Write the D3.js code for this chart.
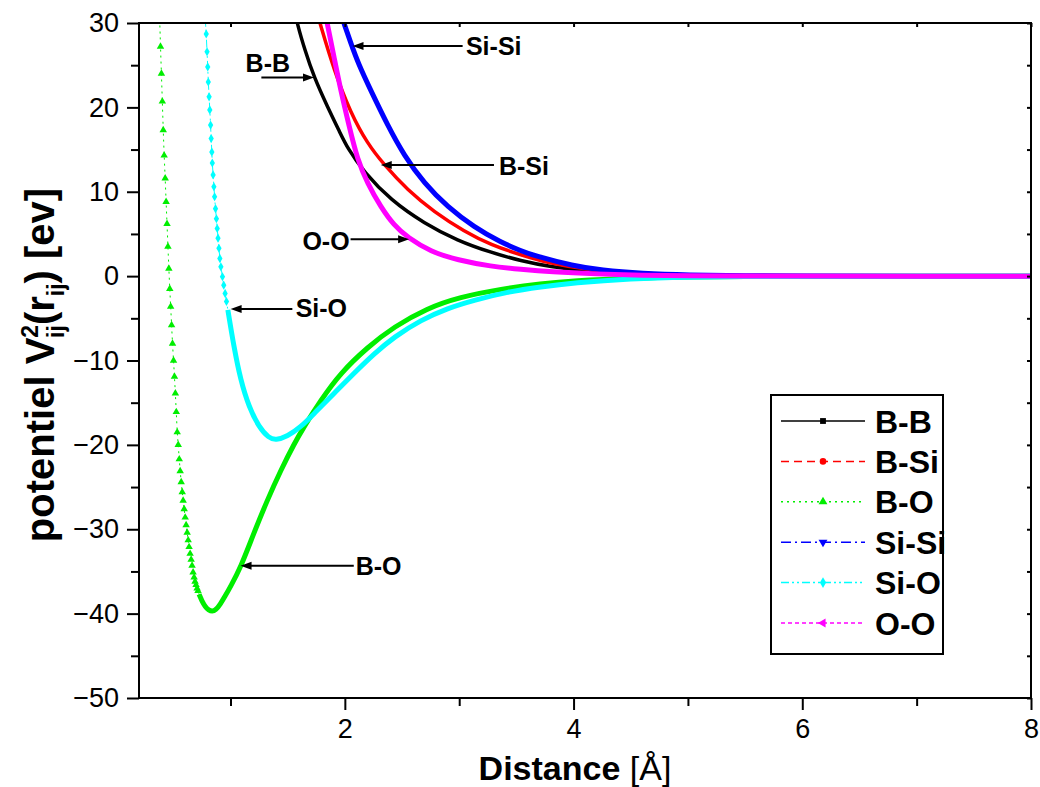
<!DOCTYPE html>
<html>
<head>
<meta charset="utf-8">
<script src="https://cdn.jsdelivr.net/npm/d3@7"></script>
<style>
  body { margin: 0; background: #fff; }
  text { font-family: "Liberation Sans", Arial, sans-serif; }
</style>
</head>
<body>
<svg id="chart" width="1040" height="787"></svg>
<script>
// values (distance in Å, potential in eV)
const bbX = [1.57, 1.583, 1.65, 1.73, 1.847, 1.958, 2.022, 2.168, 2.402, 2.694, 2.986, 3.278, 3.54, 3.8, 4.1, 4.5, 5.0, 5.5, 6.0, 7.0, 8.0];
const bbY = [31, 29.95, 26.8, 23.6, 20.1, 17.0, 15.2, 12.3, 9.0, 6.25, 4.2, 2.8, 1.8, 1.1, 0.6, 0.25, 0.08, 0.02, 0, 0, 0];

const bsX = [1.775, 1.783, 1.905, 2.052, 2.198, 2.343, 2.548, 2.781, 3.044, 3.278, 3.54, 3.8, 4.1, 4.5, 5.0, 5.5, 6.0, 7.0, 8.0];
const bsY = [30.4, 29.95, 24.4, 19.3, 15.7, 13.2, 10.2, 7.6, 5.3, 3.7, 2.5, 1.5, 0.8, 0.35, 0.12, 0.04, 0, 0, 0];

const boX = [0.381, 0.388, 0.396, 0.404, 0.412, 0.420, 0.429, 0.437, 0.445, 0.453, 0.461, 0.469, 0.477, 0.485, 0.493,
             0.502, 0.510, 0.518, 0.526, 0.534, 0.543, 0.552, 0.560, 0.569, 0.578, 0.586, 0.595, 0.604, 0.612, 0.621,
             0.630, 0.638, 0.647, 0.656, 0.664, 0.673, 0.682, 0.690, 0.699, 0.708, 0.716, 0.725, 0.75, 0.78, 0.81,
             0.84, 0.87, 0.91, 0.95, 1.00, 1.09, 1.20, 1.32, 1.44, 1.56, 1.64, 1.79, 1.96, 2.20, 2.43, 2.72, 3.00,
             3.37, 3.72, 4.00, 4.50, 5.00, 5.50, 6.00, 7.00, 8.00];
const boY = [30.4, 27.2, 24.0, 20.7, 17.3, 14.3, 11.6, 8.8, 6.2, 3.5, 0.9, -1.5, -3.6, -5.8, -8.0,
             -10.0, -11.9, -13.9, -16.1, -18.5, -20.0, -21.7, -23.1, -24.4, -25.6, -26.6, -27.6, -28.6, -29.5, -30.4,
             -31.3, -32.1, -32.9, -33.6, -34.3, -35.1, -35.7, -36.2, -36.6, -37.0, -37.3, -37.7, -38.5, -39.2, -39.6,
             -39.75, -39.6, -38.9, -38.0, -36.8, -34.5, -30.6, -26.6, -23.0, -19.8, -17.9, -14.7, -11.5, -8.4, -6.0, -3.8, -2.5,
             -1.5, -0.9, -0.55, -0.22, -0.08, -0.03, 0, 0, 0];

const ssX = [1.985, 1.993, 2.05, 2.12, 2.227, 2.373, 2.518, 2.694, 2.898, 3.131, 3.365, 3.54, 3.66, 4.0, 4.24, 4.6, 5.0, 5.5, 6.0, 7.0, 8.0];
const ssY = [30.3, 29.95, 27.7, 25.1, 22.0, 17.9, 14.3, 11.0, 8.2, 5.8, 4.0, 3.0, 2.4, 1.2, 0.7, 0.3, 0.12, 0.04, 0, 0, 0];

const soX = [0.779, 0.788, 0.795, 0.801, 0.806, 0.813, 0.819, 0.826, 0.831, 0.837, 0.841, 0.848, 0.855, 0.861, 0.869,
             0.877, 0.884, 0.891, 0.899, 0.907, 0.916, 0.930, 0.941, 0.953, 0.965, 0.977, 1.03, 1.088, 1.161, 1.249,
             1.336, 1.395, 1.497, 1.614, 1.73, 1.905, 2.081, 2.256, 2.431, 2.665, 2.898, 3.131, 3.424, 3.715, 4.0,
             4.5, 5.0, 5.5, 6.0, 7.0, 8.0];
const soY = [30.5, 28.7, 26.6, 24.8, 23.0, 21.25, 19.7, 17.9, 16.3, 14.7, 13.4, 12.0, 10.6, 9.4, 8.0,
             6.8, 5.65, 4.5, 3.3, 2.1, 1.1, -0.08, -1.07, -2.05, -3.0, -4.0, -8.4, -12.3, -15.5, -17.9,
             -19.2, -19.45, -19.0, -17.9, -16.3, -13.9, -11.5, -9.2, -7.2, -5.2, -3.8, -2.84, -1.86, -1.27, -0.8,
             -0.3, -0.1, -0.04, 0, 0, 0];

const ooX = [1.84, 1.845, 1.905, 1.964, 2.037, 2.11, 2.198, 2.314, 2.431, 2.548, 2.75, 2.986, 3.278, 3.54, 3.8, 4.2, 4.6, 5.0, 5.5, 6.0, 7.0, 8.0];
const ooY = [30.4, 30.0, 26.0, 22.0, 17.8, 13.8, 11.0, 8.2, 6.0, 4.6, 2.9, 1.9, 1.15, 0.8, 0.5, 0.25, 0.1, 0.05, 0.02, 0, 0, 0];

const xTicks = [2, 4, 6, 8];
const xMinor = [1, 3, 5, 7];
const yTicks = [-50, -40, -30, -20, -10, 0, 10, 20, 30];
const yMinor = [-45, -35, -25, -15, -5, 5, 15, 25];

const series = [
  {name: 'B-B',   xs: bbX, ys: bbY, color: '#000000', dash: null,            sym: d3.symbolSquare,   rot: 0,   band: 3.5, from: 0},
  {name: 'B-Si',  xs: bsX, ys: bsY, color: '#ff0000', dash: '8,5',           sym: d3.symbolCircle,   rot: 0,   band: 3.5, from: 0},
  {name: 'B-O',   xs: boX, ys: boY, color: '#00ee00', dash: '2,4',           sym: d3.symbolTriangle, rot: 0,   band: 5,   from: 0.72},
  {name: 'Si-Si', xs: ssX, ys: ssY, color: '#0000ff', dash: '10,4,2,4',      sym: d3.symbolTriangle, rot: 180, band: 5,   from: 0},
  {name: 'Si-O',  xs: soX, ys: soY, color: '#00ffff', dash: '8,3,2,3,2,3',   sym: d3.symbolDiamond,  rot: 0,   band: 5,   from: 0.975},
  {name: 'O-O',   xs: ooX, ys: ooY, color: '#ff00ff', dash: '4,3',           sym: d3.symbolTriangle, rot: -90, band: 5,   from: 0}
];

const notes = [
  {label: 'B-B',   tipX: 1.730, tipY: 23.55,  tailX: 1.27,  textX: 1.132, textY: 24.2},
  {label: 'Si-Si', tipX: 2.067, tipY: 27.26,  tailX: 3.03,  textX: 3.059, textY: 26.19},
  {label: 'B-Si',  tipX: 2.314, tipY: 13.16,  tailX: 3.304, textX: 3.347, textY: 11.97},
  {label: 'O-O',   tipX: 2.562, tipY: 4.385,  tailX: 2.05,  textX: 1.629, textY: 3.08},
  {label: 'Si-O',  tipX: 1.001, tipY: -3.91,  tailX: 1.541, textX: 1.57,  textY: -4.82},
  {label: 'B-O',   tipX: 1.088, tipY: -34.33, tailX: 2.078, textX: 2.095, textY: -35.44}
];

const margin = {top: 23, right: 9, bottom: 89, left: 139};
const width = 1040 - margin.left - margin.right;
const height = 787 - margin.top - margin.bottom;

const svg = d3.select('#chart');
const g = svg.append('g').attr('transform', `translate(${margin.left},${margin.top})`);

const x = d3.scaleLinear().domain([0.2, 8]).range([0, width]);
const y = d3.scaleLinear().domain([-50, 30]).range([height, 0]);

svg.append('defs').append('clipPath').attr('id', 'plot')
  .append('rect').attr('width', width).attr('height', height);

// curves (B-spline through the read points smooths reading noise)
const line = d3.line().x(d => x(d[0])).y(d => y(d[1])).curve(d3.curveBasis);
const curves = g.append('g').attr('clip-path', 'url(#plot)');

series.forEach(s => {
  const pts = s.xs.map((v, i) => [v, s.ys[i]]);
  curves.append('path').datum(pts)
    .attr('d', line).attr('fill', 'none')
    .attr('stroke', s.color).attr('stroke-width', 1)
    .attr('stroke-dasharray', s.dash);
  const dense = pts.filter(p => p[0] >= s.from);
  curves.append('path').datum(dense)
    .attr('d', line).attr('fill', 'none')
    .attr('stroke', s.color).attr('stroke-width', s.band)
    .attr('stroke-linejoin', 'round');
  curves.selectAll(null).data(pts.filter(p => p[0] < s.from)).enter()
    .append('path')
    .attr('d', d3.symbol().type(s.sym).size(24))
    .attr('transform', p => `translate(${x(p[0])},${y(p[1])}) rotate(${s.rot})`)
    .attr('fill', s.color);
});

// axes
function styleAxis(sel, labels) {
  sel.select('.domain').remove();
  sel.selectAll('line').attr('stroke', '#000').attr('stroke-width', 2);
  sel.selectAll('text').style('font-size', '27px').attr('fill', '#000');
  if (!labels) sel.selectAll('text').remove();
}

g.append('g').attr('transform', `translate(0,${height})`)
  .call(d3.axisBottom(x).tickValues(xTicks).tickSize(12).tickPadding(9).tickFormat(d3.format('d')))
  .call(s => styleAxis(s, true));
g.append('g').attr('transform', `translate(0,${height})`)
  .call(d3.axisBottom(x).tickValues(xMinor).tickSize(8))
  .call(s => styleAxis(s, false));
g.append('g')
  .call(d3.axisLeft(y).tickValues(yTicks).tickSize(12).tickPadding(8).tickFormat(d3.format('d')))
  .call(s => styleAxis(s, true));
g.append('g')
  .call(d3.axisLeft(y).tickValues(yMinor).tickSize(8))
  .call(s => styleAxis(s, false));
g.append('g')
  .call(d3.axisTop(x).tickValues(xTicks.concat(xMinor)).tickSize(-4))
  .call(s => styleAxis(s, false));
g.append('g').attr('transform', `translate(${width},0)`)
  .call(d3.axisRight(y).tickValues(yTicks.concat(yMinor)).tickSize(-4))
  .call(s => styleAxis(s, false));

g.append('rect').attr('width', width).attr('height', height)
  .attr('fill', 'none').attr('stroke', '#000').attr('stroke-width', 2);

// annotations
const ann = g.append('g');
notes.forEach(n => {
  const tx = x(n.tipX), ty = y(n.tipY), sx = x(n.tailX);
  const dir = tx > sx ? 1 : -1;
  ann.append('line').attr('x1', sx).attr('y1', ty).attr('x2', tx - dir * 8).attr('y2', ty)
    .attr('stroke', '#000').attr('stroke-width', 2);
  ann.append('path')
    .attr('d', `M${tx},${ty} L${tx - dir * 11},${ty - 4} L${tx - dir * 11},${ty + 4} Z`)
    .attr('fill', '#000');
  ann.append('text').attr('x', x(n.textX)).attr('y', y(n.textY))
    .style('font-size', '25px').style('font-weight', 'bold').text(n.label);
});

// legend
const lg = svg.append('g').attr('transform', 'translate(771,395)');
lg.append('rect').attr('width', 172).attr('height', 259)
  .attr('fill', '#fff').attr('stroke', '#000').attr('stroke-width', 2);
series.forEach((s, i) => {
  const ly = 26 + i * 40.4;
  lg.append('line').attr('x1', 10).attr('x2', 94).attr('y1', ly).attr('y2', ly)
    .attr('stroke', s.color).attr('stroke-width', 1.5).attr('stroke-dasharray', s.dash);
  lg.append('path').attr('d', d3.symbol().type(s.sym).size(34))
    .attr('transform', `translate(52,${ly}) rotate(${s.rot})`).attr('fill', s.color);
  lg.append('text').attr('x', 104).attr('y', ly + 11.5)
    .style('font-size', '32px').style('font-weight', 'bold').text(s.name);
});

// axis titles
const xt = svg.append('text').attr('x', 575).attr('y', 780).attr('text-anchor', 'middle')
  .style('font-size', '34px');
xt.append('tspan').style('font-weight', 'bold').text('Distance');
xt.append('tspan').text(' [Å]');

const yt = svg.append('text').attr('transform', 'translate(54,365) rotate(-90)')
  .attr('text-anchor', 'middle').style('font-size', '40px').style('font-weight', 'bold');
yt.append('tspan').text('potentiel V');
yt.append('tspan').attr('dy', -16).style('font-size', '23px').text('2');
yt.append('tspan').attr('dx', -13).attr('dy', 26).style('font-size', '23px').text('ij');
yt.append('tspan').attr('dy', -10).text('(r');
yt.append('tspan').attr('dy', 10).style('font-size', '23px').text('ij');
yt.append('tspan').attr('dy', -10).text(') [ev]');
</script>
</body>
</html>
